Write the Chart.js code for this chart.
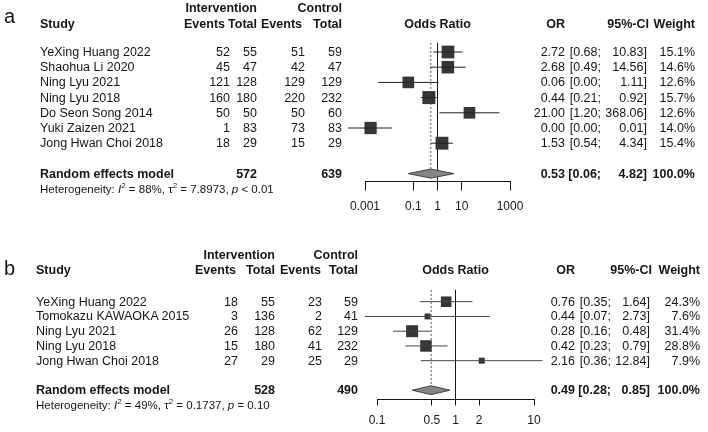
<!DOCTYPE html>
<html>
<head>
<meta charset="utf-8">
<script src="https://cdn.jsdelivr.net/npm/chart.js@4.4.0/dist/chart.umd.min.js"></script>
<style>
    body { margin: 0; background: #fff; }
    #wrap { position: relative; width: 708px; height: 432px; overflow: hidden;
            font-family: "Liberation Sans", Arial, sans-serif; color: #161616; }
    canvas { position: absolute; left: 0; }
    .t { position: absolute; white-space: pre; font-size: 12.5px; line-height: 14px; height: 14px; }
    .b { font-weight: bold; }
    .r { text-align: right; }
    .c { text-align: center; width: 200px; }
    .h { font-size: 11.5px; }
    .panel { font-size: 20px; line-height: 20px; height: 20px; }
    sup { font-size: 8px; line-height: 0; vertical-align: 5px; }
</style>
</head>
<body>
<div id="wrap">
    <canvas id="chartA" width="708" height="216" style="top:0"></canvas>
    <canvas id="chartB" width="708" height="216" style="top:216px"></canvas>
</div>
<script>
/**
 * Forest plots (odds ratios, random effects model)
 */

// Panel a
const studiesA = ['YeXing Huang 2022', 'Shaohua Li 2020', 'Ning Lyu 2021', 'Ning Lyu 2018',
    'Do Seon Song 2014', 'Yuki Zaizen 2021', 'Jong Hwan Choi 2018'];
const eventsIntA = [52, 45, 121, 160, 50, 1, 18];
const totalIntA = [55, 47, 128, 180, 50, 83, 29];
const eventsCtlA = [51, 42, 129, 220, 50, 73, 15];
const totalCtlA = [59, 47, 129, 232, 60, 83, 29];
const orA = [2.72, 2.68, 0.062, 0.44, 21.00, 0.0017, 1.53];
const lowerA = [0.68, 0.49, 0.0035, 0.21, 1.20, 0.0002, 0.54];
const upperA = [10.83, 14.56, 1.11, 0.92, 368.06, 0.013, 4.34];
const weightA = [15.1, 14.6, 12.6, 15.7, 12.6, 14.0, 15.4];
const pooledA = [0.53, 0.06, 4.82];          // OR, lower, upper
const pooledTotalsA = [572, 639];
const heteroA = ['88%', '7.8973', '< 0.01'];
const ticksA = [0.001, 0.1, 1, 10, 1000];

// Panel b
const studiesB = ['YeXing Huang 2022', 'Tomokazu KAWAOKA 2015', 'Ning Lyu 2021', 'Ning Lyu 2018',
    'Jong Hwan Choi 2018'];
const eventsIntB = [18, 3, 26, 15, 27];
const totalIntB = [55, 136, 128, 180, 29];
const eventsCtlB = [23, 2, 62, 41, 25];
const totalCtlB = [59, 41, 129, 232, 29];
const orB = [0.76, 0.44, 0.28, 0.42, 2.16];
const lowerB = [0.35, 0.07, 0.16, 0.23, 0.36];
const upperB = [1.64, 2.73, 0.48, 0.79, 12.84];
const weightB = [24.3, 7.6, 31.4, 28.8, 7.9];
const pooledB = [0.49, 0.28, 0.85];
const pooledTotalsB = [528, 490];
const heteroB = ['49%', '0.1737', '= 0.10'];
const ticksB = [0.1, 0.5, 1, 2, 10];

const FONT = '"Liberation Sans", Arial, sans-serif';
const INK = '#161616';

// layout of each panel (pixels inside its own 708x216 canvas)
const layoutA = {
    top: 0, label: 'a', plotLeft: 365, plotRight: 510, row0: 52, step: 15.2, axisY: 181.5,
    tickLen: 9, tickPad: 8.5, lineTop: -0.6, maxBox: 13, lineColor: '#222',
    hdr1: 7.5, hdr2: 23.5, heteroY: 189, labelBase: 23,
    col: { name: 40, ev1: 230, ev1Hdr: 225, n1: 257, ev2: 305, ev2Hdr: 302, n2: 342,
           or: 565, ciLo: 601, ciHi: 647, ciHdr: 649, w: 695 }
};
const layoutB = {
    top: 216, label: 'b', plotLeft: 377, plotRight: 534, row0: 85.7, step: 14.75, axisY: 183.5,
    tickLen: 6, tickPad: 8, lineTop: -0.8, maxBox: 12, lineColor: '#444',
    hdr1: 39, hdr2: 54, heteroY: 189, labelBase: 59,
    col: { name: 36, ev1: 238, ev1Hdr: 236, n1: 275, ev2: 322, ev2Hdr: 321, n2: 358,
           or: 575, ciLo: 611, ciHi: 650, ciHdr: 652, w: 700 }
};

const wrap = document.getElementById('wrap');

/**
 * Add a text span; x is the left edge, right edge or centre depending on align
 */
function addText(html, x, yCenter, align, cls) {
    const el = document.createElement('div');
    el.className = 't ' + (cls || '');
    el.innerHTML = html;
    el.style.top = (yCenter - 7) + 'px';
    if (align === 'right') {
        el.classList.add('r');
        el.style.right = (708 - x) + 'px';
    } else if (align === 'center') {
        el.classList.add('c');
        el.style.left = (x - 100) + 'px';
    } else {
        el.style.left = x + 'px';
    }
    wrap.appendChild(el);
    return el;
}

/**
 * Build one forest plot
 */
function makeForest(canvasId, p, L) {
    const n = p.studies.length;
    const pooledRow = n + 1;
    const maxW = Math.max(...p.weight);
    const yMax = (L.axisY - L.row0) / L.step;
    const [est, lo, hi] = p.pooled;

    const datasets = [];

    // confidence intervals
    p.or.forEach((v, i) => datasets.push({
        data: [{ x: p.lower[i], y: i }, { x: p.upper[i], y: i }],
        showLine: true, borderColor: L.lineColor, borderWidth: 1,
        pointRadius: 0, clip: false, order: 0
    }));

    // study boxes, area proportional to weight
    datasets.push({
        data: p.or.map((v, i) => ({ x: v, y: i })),
        pointStyle: 'rect',
        pointRadius: p.weight.map(w => L.maxBox * Math.sqrt(w / maxW) / Math.SQRT2),
        backgroundColor: '#363636', borderColor: '#363636', borderWidth: 0,
        clip: false, order: 1
    });

    // pooled diamond
    datasets.push({
        data: [
            { x: lo, y: pooledRow }, { x: est, y: pooledRow - 0.3 },
            { x: hi, y: pooledRow }, { x: est, y: pooledRow + 0.3 }, { x: lo, y: pooledRow }
        ],
        showLine: true, fill: 'shape', backgroundColor: '#858585', borderColor: '#444',
        borderWidth: 1, pointRadius: 0, clip: false, order: 2
    });

    // line of no effect and pooled estimate
    datasets.push({
        data: [{ x: 1, y: L.lineTop }, { x: 1, y: yMax }],
        showLine: true, borderColor: INK, borderWidth: 1, pointRadius: 0, clip: false, order: 3
    });
    datasets.push({
        data: [{ x: est, y: L.lineTop }, { x: est, y: pooledRow }],
        showLine: true, borderColor: '#555', borderWidth: 1, borderDash: [2, 2],
        pointRadius: 0, clip: false, order: 3
    });

    const chart = new Chart(document.getElementById(canvasId), {
        type: 'scatter',
        data: { datasets },
        options: {
            responsive: false,
            animation: false,
            devicePixelRatio: 1,
            events: [],
            layout: {
                padding: {
                    left: L.plotLeft,
                    right: 708 - L.plotRight,
                    top: L.row0 - L.step,
                    bottom: 216 - L.axisY - 30
                }
            },
            plugins: { legend: { display: false }, tooltip: { enabled: false } },
            scales: {
                x: {
                    type: 'logarithmic',
                    min: p.ticks[0],
                    max: p.ticks[p.ticks.length - 1],
                    afterBuildTicks: s => { s.ticks = p.ticks.map(v => ({ value: v })); },
                    afterFit: s => { s.height = 30; },
                    ticks: {
                        callback: v => String(v),
                        color: INK, font: { family: FONT, size: 12 },
                        padding: L.tickPad, maxRotation: 0, autoSkip: false
                    },
                    grid: { drawOnChartArea: false, tickLength: L.tickLen, color: INK, lineWidth: 1 },
                    border: { display: true, color: INK, width: 1 }
                },
                y: { type: 'linear', display: false, reverse: true, min: -1, max: yMax }
            }
        }
    });

    // text columns, aligned on the chart's own row scale
    const C = L.col;
    const rowY = i => L.top + chart.scales.y.getPixelForValue(i);
    const mid = (L.plotLeft + L.plotRight) / 2;

    const lbl = document.createElement('div');
    lbl.className = 't panel';
    lbl.textContent = L.label;
    lbl.style.left = '4px';
    lbl.style.top = (L.top + L.labelBase - 16.9) + 'px';
    wrap.appendChild(lbl);

    addText('Intervention', C.n1, L.top + L.hdr1, 'right', 'b');
    addText('Control', C.n2, L.top + L.hdr1, 'right', 'b');
    addText('Study', C.name, L.top + L.hdr2, 'left', 'b');
    addText('Events', C.ev1Hdr, L.top + L.hdr2, 'right', 'b');
    addText('Total', C.n1, L.top + L.hdr2, 'right', 'b');
    addText('Events', C.ev2Hdr, L.top + L.hdr2, 'right', 'b');
    addText('Total', C.n2, L.top + L.hdr2, 'right', 'b');
    addText('Odds Ratio', mid, L.top + L.hdr2, 'center', 'b');
    addText('OR', C.or, L.top + L.hdr2, 'right', 'b');
    addText('95%-CI', C.ciHdr, L.top + L.hdr2, 'right', 'b');
    addText('Weight', C.w, L.top + L.hdr2, 'right', 'b');

    p.studies.forEach((s, i) => {
        const y = rowY(i);
        addText(s, C.name, y, 'left');
        addText(String(p.evInt[i]), C.ev1, y, 'right');
        addText(String(p.nInt[i]), C.n1, y, 'right');
        addText(String(p.evCtl[i]), C.ev2, y, 'right');
        addText(String(p.nCtl[i]), C.n2, y, 'right');
        addText(p.or[i].toFixed(2), C.or, y, 'right');
        addText('[' + p.lower[i].toFixed(2) + ';', C.ciLo, y, 'right');
        addText(p.upper[i].toFixed(2) + ']', C.ciHi, y, 'right');
        addText(p.weight[i].toFixed(1) + '%', C.w, y, 'right');
    });

    const yp = rowY(pooledRow);
    addText('Random effects model', C.name, yp, 'left', 'b');
    addText(String(p.totals[0]), C.n1, yp, 'right', 'b');
    addText(String(p.totals[1]), C.n2, yp, 'right', 'b');
    addText(est.toFixed(2), C.or, yp, 'right', 'b');
    addText('[' + lo.toFixed(2) + ';', C.ciLo, yp, 'right', 'b');
    addText(hi.toFixed(2) + ']', C.ciHi, yp, 'right', 'b');
    addText('100.0%', C.w, yp, 'right', 'b');

    const [i2, tau2, pv] = p.hetero;
    addText('Heterogeneity: <i>I</i><sup>2</sup> = ' + i2 + ', \u03c4<sup>2</sup> = ' + tau2 +
        ', <i>p</i> ' + pv.replace('<', '&lt;'), C.name, L.top + L.heteroY, 'left', 'h');

    return chart;
}

makeForest('chartA', {
    studies: studiesA, evInt: eventsIntA, nInt: totalIntA, evCtl: eventsCtlA, nCtl: totalCtlA,
    or: orA, lower: lowerA, upper: upperA, weight: weightA,
    pooled: pooledA, totals: pooledTotalsA, hetero: heteroA, ticks: ticksA
}, layoutA);

makeForest('chartB', {
    studies: studiesB, evInt: eventsIntB, nInt: totalIntB, evCtl: eventsCtlB, nCtl: totalCtlB,
    or: orB, lower: lowerB, upper: upperB, weight: weightB,
    pooled: pooledB, totals: pooledTotalsB, hetero: heteroB, ticks: ticksB
}, layoutB);
</script>
</body>
</html>
